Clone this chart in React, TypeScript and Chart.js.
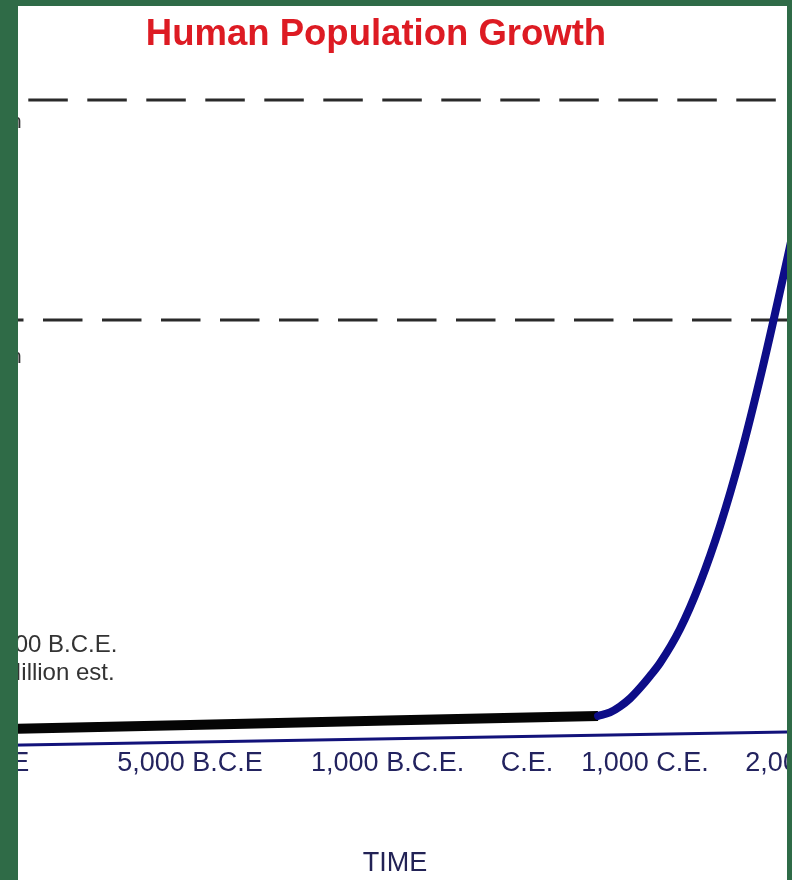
import { useEffect, useRef } from "react";
import { Chart, registerables } from "chart.js";

Chart.register(...registerables);

const FONT = '"Liberation Sans", Arial, sans-serif';

// Non-uniform schematic timeline: 10,000 B.C.E = 0 ... 2,000 C.E. = 10
const tickLabels = ["10,000 B.C.E", "5,000 B.C.E", "1,000 B.C.E.", "C.E.", "1,000 C.E.", "2,000 C.E."];
const tickPositions = [0, 2.82, 5.13, 6.76, 8.14, 10.06];

// Population (billions, schematic)
const earlyTime = [0, 2.82, 5.13, 6.76, 7.591];
const earlyPop = [0.27, 0.318, 0.358, 0.386, 0.4];

const modernTime = [7.591, 7.731, 7.848, 7.965, 8.082, 8.199, 8.316, 8.55, 8.784, 9.018, 9.251, 9.509, 9.801, 10];
const modernPop = [0.4, 0.432, 0.486, 0.559, 0.655, 0.764, 0.882, 1.191, 1.609, 2.127, 2.745, 3.545, 4.545, 5.255];

// Hand-drawn time axis line (slightly tilted)
const axisTime = [0, 11];
const axisLevel = [0.125, 0.27];

// Dashed reference levels and their (cropped) labels
const guideLevels = [6, 4];
const guideLabels = ["6 Billion", "4 Billion"];
const guideLabelLevels = [5.75, 3.61];
const guideLabelTime = 0.85;
const guideDashOffsets = [-32.3, -47];

// Annotation
const noteLines = ["8,000 B.C.E.", "5 Million est."];
const noteTime = 0.378;
const noteLevels = [0.982, 0.727];

const X_MIN = -0.83;
const X_MAX = 11.263;
const Y_MIN = 0.116;
const Y_MAX = 6.335;

const notesPlugin = {
  id: "notes",
  afterDatasetsDraw(chart: any) {
    const { ctx, scales } = chart;
    const x = scales.x;
    const y = scales.y;
    ctx.save();
    ctx.fillStyle = "#333333";
    ctx.textBaseline = "alphabetic";
    ctx.font = `21px ${FONT}`;
    ctx.textAlign = "right";
    guideLabels.forEach((t, i) => {
      ctx.fillText(t, x.getPixelForValue(guideLabelTime), y.getPixelForValue(guideLabelLevels[i]));
    });
    ctx.font = `24px ${FONT}`;
    ctx.textAlign = "left";
    noteLines.forEach((t, i) => {
      ctx.fillText(t, x.getPixelForValue(noteTime), y.getPixelForValue(noteLevels[i]));
    });
    ctx.restore();
  },
};

export default function App() {
  const ref = useRef<HTMLCanvasElement | null>(null);

  useEffect(() => {
    if (!ref.current) return;
    const toXY = (xs: number[], ys: number[]) => xs.map((v, i) => ({ x: v, y: ys[i] }));
    const chart = new Chart(ref.current, {
      type: "line",
      data: {
        datasets: [
          {
            label: "modern",
            data: toXY(modernTime, modernPop),
            borderColor: "#0d0d88",
            borderWidth: 8,
            borderCapStyle: "round",
            cubicInterpolationMode: "monotone",
            pointRadius: 0,
            fill: false,
          },
          {
            label: "early",
            data: toXY(earlyTime, earlyPop),
            borderColor: "#050505",
            borderWidth: 10,
            tension: 0,
            pointRadius: 0,
            fill: false,
          },
          {
            label: "axis",
            data: toXY(axisTime, axisLevel),
            borderColor: "#12127a",
            borderWidth: 3,
            pointRadius: 0,
            fill: false,
          },
          ...guideLevels.map((lvl, i) => ({
            label: "guide" + i,
            data: [
              { x: X_MIN, y: lvl },
              { x: X_MAX, y: lvl },
            ],
            borderColor: "#2a2a2a",
            borderWidth: 3,
            borderDash: [39.5, 19.5],
            borderDashOffset: guideDashOffsets[i],
            pointRadius: 0,
            fill: false,
          })),
        ],
      },
      options: {
        responsive: false,
        animation: false,
        layout: { padding: 0 },
        plugins: {
          legend: { display: false },
          tooltip: { enabled: false },
          title: {
            display: true,
            text: "Human Population Growth",
            color: "#dd1b23",
            font: { family: FONT, size: 36.5, weight: "bold" },
            padding: { top: 7, bottom: 6.4 },
          },
        },
        scales: {
          x: {
            type: "linear",
            min: X_MIN,
            max: X_MAX,
            grid: { display: false, drawTicks: false },
            border: { display: false },
            afterBuildTicks: (s: any) => {
              s.ticks = tickPositions.map((v) => ({ value: v }));
            },
            ticks: {
              autoSkip: false,
              maxRotation: 0,
              minRotation: 0,
              padding: 0,
              color: "#23235f",
              font: { family: FONT, size: 27 },
              callback: (_v: any, i: number) => tickLabels[i],
            },
            title: {
              display: true,
              text: "TIME",
              color: "#222255",
              font: { family: FONT, size: 27 },
              padding: { top: 68, bottom: 4 },
            },
          },
          y: {
            type: "linear",
            min: Y_MIN,
            max: Y_MAX,
            grid: { display: false, drawTicks: false },
            border: { display: false },
            ticks: { display: false },
            afterFit: (s: any) => {
              s.width = 38;
            },
          },
        },
      } as any,
      plugins: [notesPlugin],
    });
    return () => chart.destroy();
  }, []);

  return (
    <div style={{ position: "fixed", inset: 0, background: "#2f6b47", overflow: "hidden" }}>
      <div
        style={{
          position: "absolute",
          left: 18,
          top: 6,
          width: 769,
          height: 874,
          background: "#ffffff",
          overflow: "hidden",
        }}
      >
        <canvas
          ref={ref}
          width={1072}
          height={878}
          style={{ position: "absolute", left: -178, top: 0, width: 1072, height: 878 }}
        />
      </div>
    </div>
  );
}
